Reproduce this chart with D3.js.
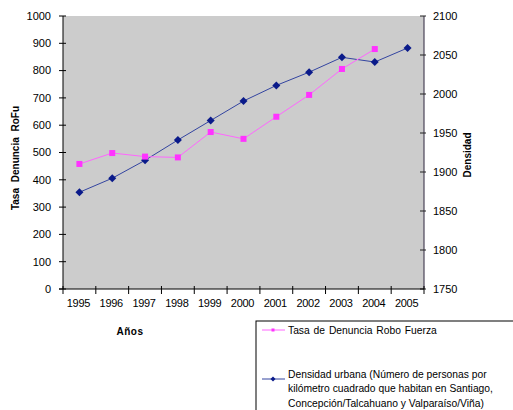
<!DOCTYPE html>
<html>
<head>
<meta charset="utf-8">
<script src="https://cdn.jsdelivr.net/npm/d3@7"></script>
<style>
  html, body { margin: 0; padding: 0; background: #ffffff; }
  svg { display: block; font-family: "Liberation Sans", Arial, sans-serif; }
</style>
</head>
<body>
<svg id="chart" width="513" height="410"></svg>
<script>
// Years on the category axis
const years = ["1995", "1996", "1997", "1998", "1999", "2000", "2001", "2002", "2003", "2004", "2005"];
// Tasa de denuncia por robo con fuerza (left axis)
const tasaRobo = [458, 498, 485, 482, 575, 550, 631, 711, 806, 879];
// Densidad urbana, personas por km² (right axis)
const densidad = [1874, 1892, 1915, 1941, 1966, 1991, 2011, 2028, 2047, 2041, 2059];
// Tick values for both value axes
const leftTicks = [0, 100, 200, 300, 400, 500, 600, 700, 800, 900, 1000];
const rightTicks = [1750, 1800, 1850, 1900, 1950, 2000, 2050, 2100];

const svg = d3.select("#chart");
const plot = { left: 63, right: 424, top: 16, bottom: 289 };

const x = d3.scaleBand().domain(years).range([plot.left, plot.right]);
const yL = d3.scaleLinear().domain([0, 1000]).range([plot.bottom, plot.top]);
const yR = d3.scaleLinear().domain([1750, 2100]).range([plot.bottom, plot.top]);

// Plot area background
svg.append("rect")
  .attr("x", plot.left).attr("y", plot.top)
  .attr("width", plot.right - plot.left).attr("height", plot.bottom - plot.top)
  .attr("fill", "#cccccc");

// Left axis
svg.append("line")
  .attr("x1", plot.left).attr("x2", plot.left)
  .attr("y1", plot.top).attr("y2", plot.bottom)
  .attr("stroke", "#000").attr("stroke-width", 1);
svg.append("g").selectAll("line").data(leftTicks).join("line")
  .attr("x1", plot.left - 4).attr("x2", plot.left + 3)
  .attr("y1", d => yL(d)).attr("y2", d => yL(d))
  .attr("stroke", "#000");
svg.append("g").selectAll("text").data(leftTicks).join("text")
  .attr("x", 51).attr("y", d => yL(d))
  .attr("dy", "0.35em").attr("text-anchor", "end")
  .attr("font-size", 11).attr("fill", "#000")
  .text(d => d);

// Right axis
svg.append("line")
  .attr("x1", plot.right).attr("x2", plot.right)
  .attr("y1", plot.top).attr("y2", plot.bottom)
  .attr("stroke", "#4a4458").attr("stroke-width", 1.2);
svg.append("g").selectAll("line").data(rightTicks).join("line")
  .attr("x1", plot.right - 4).attr("x2", plot.right + 2)
  .attr("y1", d => yR(d)).attr("y2", d => yR(d))
  .attr("stroke", "#222");
svg.append("g").selectAll("text").data(rightTicks).join("text")
  .attr("x", 433).attr("y", d => yR(d))
  .attr("dy", "0.35em").attr("text-anchor", "start")
  .attr("font-size", 11).attr("fill", "#000")
  .text(d => d);

// Bottom axis with ticks on the category boundaries
svg.append("line")
  .attr("x1", plot.left - 4).attr("x2", plot.right)
  .attr("y1", plot.bottom).attr("y2", plot.bottom)
  .attr("stroke", "#000");
const boundaries = years.map(y => x(y)).concat([plot.right]);
svg.append("g").selectAll("line").data(boundaries).join("line")
  .attr("x1", d => d).attr("x2", d => d)
  .attr("y1", plot.bottom - 3).attr("y2", plot.bottom + 5)
  .attr("stroke", "#000");
svg.append("g").selectAll("text").data(years).join("text")
  .attr("x", d => x(d) + x.bandwidth() / 2 - 1).attr("y", 303)
  .attr("dy", "0.35em").attr("text-anchor", "middle")
  .attr("font-size", 11).attr("letter-spacing", -0.3).attr("fill", "#000")
  .text(d => d);

// Axis titles
svg.append("text")
  .attr("transform", "translate(19,158) rotate(-90)")
  .attr("text-anchor", "middle").attr("font-size", 10).attr("font-weight", "bold")
  .attr("word-spacing", 3)
  .text("Tasa Denuncia RoFu");
svg.append("text")
  .attr("transform", "translate(471,155) rotate(-90)")
  .attr("text-anchor", "middle").attr("font-size", 10).attr("font-weight", "bold")
  .text("Densidad");
svg.append("text")
  .attr("x", 130).attr("y", 335)
  .attr("text-anchor", "middle").attr("font-size", 10).attr("font-weight", "bold")
  .attr("letter-spacing", 0.5)
  .text("Años");

const cx = i => x(years[i]) + x.bandwidth() / 2;

// Diamond marker: a square turned by 45 degrees
const diamondPath = r => `M0,${-r}L${r},0L0,${r}L${-r},0Z`;

// Density series (right axis)
const blueLine = "#3344a0", blueMark = "#0a1a8a";
svg.append("path")
  .datum(densidad)
  .attr("fill", "none").attr("stroke", blueLine).attr("stroke-width", 1)
  .attr("d", d3.line().x((d, i) => cx(i)).y(d => yR(d)));
svg.append("g").selectAll("path").data(densidad).join("path")
  .attr("transform", (d, i) => `translate(${cx(i)},${yR(d)})`)
  .attr("d", diamondPath(4)).attr("fill", blueMark);

// Robbery rate series (left axis)
const pinkLine = "#ff66ff", pinkMark = "#ff33ff";
svg.append("path")
  .datum(tasaRobo)
  .attr("fill", "none").attr("stroke", pinkLine).attr("stroke-width", 1)
  .attr("d", d3.line().x((d, i) => cx(i)).y(d => yL(d)));
svg.append("g").selectAll("rect").data(tasaRobo).join("rect")
  .attr("x", (d, i) => cx(i) - 3).attr("y", d => yL(d) - 3)
  .attr("width", 6).attr("height", 6)
  .attr("fill", pinkMark);

// Legend
const lg = svg.append("g");
lg.append("rect")
  .attr("x", 256).attr("y", 321).attr("width", 270).attr("height", 100)
  .attr("fill", "#fff").attr("stroke", "#000").attr("stroke-width", 1);
lg.append("line")
  .attr("x1", 262).attr("x2", 285).attr("y1", 330).attr("y2", 330)
  .attr("stroke", pinkLine);
lg.append("rect")
  .attr("x", 271.5).attr("y", 328.5).attr("width", 3).attr("height", 3)
  .attr("fill", pinkMark);
lg.append("text")
  .attr("x", 288).attr("y", 330).attr("dy", "0.35em")
  .attr("font-size", 10.3).attr("word-spacing", 1).text("Tasa de Denuncia Robo Fuerza");
lg.append("line")
  .attr("x1", 262).attr("x2", 285).attr("y1", 379).attr("y2", 379)
  .attr("stroke", blueLine);
lg.append("path")
  .attr("transform", "translate(273,379)")
  .attr("d", diamondPath(2.5)).attr("fill", blueMark);
const legendLines = [
  "Densidad urbana (Número de personas por",
  "kilómetro cuadrado que habitan en Santiago,",
  "Concepción/Talcahuano y Valparaíso/Viña)"
];
lg.selectAll("text.multi").data(legendLines).join("text")
  .attr("class", "multi")
  .attr("x", 288).attr("y", (d, i) => 374 + i * 14.5).attr("dy", "0.35em")
  .attr("font-size", 10.3).text(d => d);
</script>
</body>
</html>
